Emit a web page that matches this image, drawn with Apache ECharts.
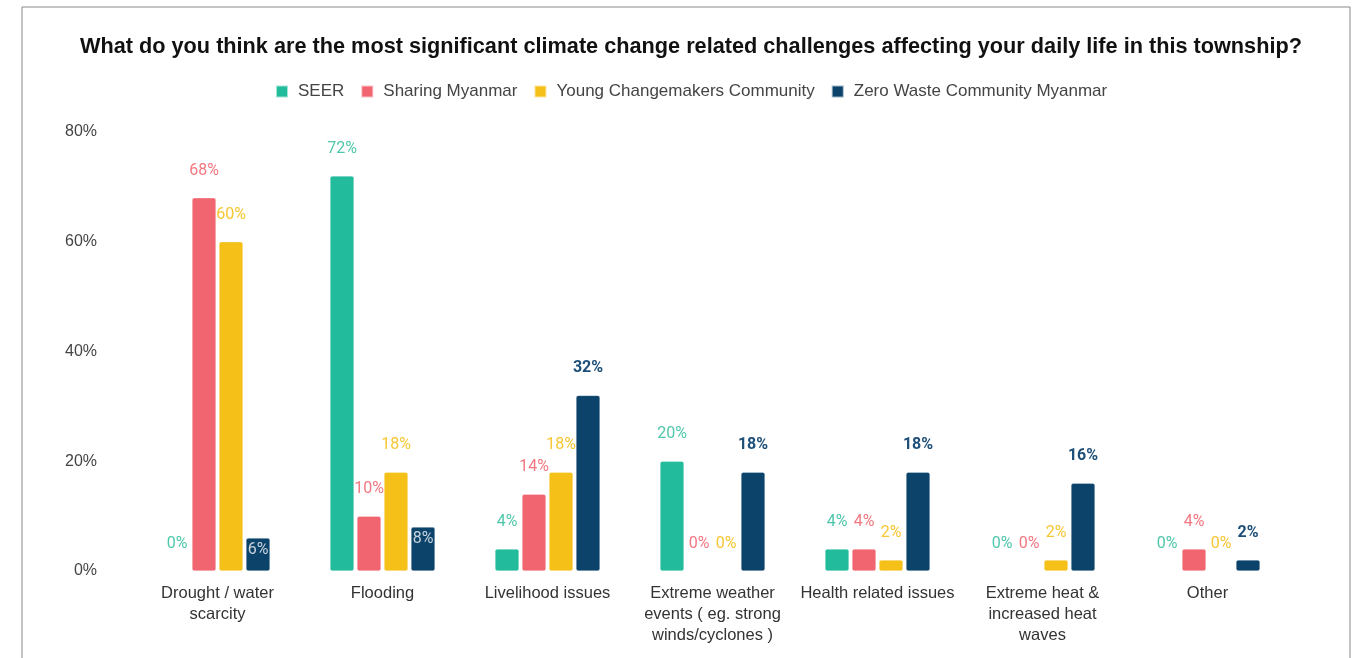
<!DOCTYPE html>
<html>
<head>
<meta charset="utf-8">
<script src="https://cdn.jsdelivr.net/npm/echarts@6/dist/echarts.min.js"></script>
<style>
  html, body { margin: 0; padding: 0; background: #fff; }
  #chart { width: 1358px; height: 658px; }
</style>
</head>
<body>
<div id="chart"></div>
<script>
"use strict"
// data
var categories = [
  'Drought / water\nscarcity',
  'Flooding',
  'Livelihood issues',
  'Extreme weather\nevents ( eg. strong\nwinds/cyclones )',
  'Health related issues',
  'Extreme heat &\nincreased heat\nwaves',
  'Other'
];
var seriesNames = ['SEER', 'Sharing Myanmar', 'Young Changemakers Community', 'Zero Waste Community Myanmar'];
var seer = [0, 72, 4, 20, 4, 0, 0];
var sharing = [68, 10, 14, 0, 4, 0, 4];
var young = [60, 18, 18, 0, 2, 2, 0];
var zeroWaste = [6, 8, 32, 18, 18, 16, 2];
var yTicks = [0, 20, 40, 60, 80];

var colors = ['#22bb9b', '#f06570', '#f5c018', '#0b436b'];
var labelColors = ['#4fc7ab', '#f27780', '#f7c633', '#1d4f78'];
// labels that sit inside the bar in the reference
var insideLabels = { 3: [0, 1] };

function makeSeries(idx, values) {
  var inside = insideLabels[idx] || [];
  var d = values.map(function (v, i) {
    if (inside.indexOf(i) >= 0) {
      return { value: v, label: { position: 'insideTop', distance: 4, color: '#c9d4de', fontWeight: 'normal' } };
    }
    return v;
  });
  return {
    name: seriesNames[idx],
    type: 'bar',
    barWidth: 24,
    barGap: '12.5%',
    data: d,
    itemStyle: {
      color: colors[idx],
      borderRadius: 2,
      borderColor: 'rgba(255,255,255,0.6)',
      borderWidth: 0.5
    },
    label: {
      show: true,
      position: 'top',
      distance: 19,
      formatter: '{c}%',
      fontFamily: 'Roboto',
      fontSize: 16,
      fontWeight: idx === 3 ? 'bold' : 'normal',
      color: labelColors[idx]
    }
  };
}

var option = {
  backgroundColor: '#fff',
  animation: false,
  graphic: [{
    type: 'rect',
    shape: { x: 22, y: 7, width: 1328, height: 700 },
    style: { fill: 'none', stroke: '#888', lineWidth: 1 },
    silent: true
  }],
  title: {
    text: 'What do you think are the most significant climate change related challenges affecting your daily life in this township?',
    left: 75,
    top: 31,
    textStyle: {
      fontFamily: 'Liberation Sans',
      fontSize: 21.7,
      fontWeight: 'bold',
      color: '#111'
    }
  },
  legend: {
    top: 78,
    left: 270,
    icon: 'rect',
    itemWidth: 12,
    itemHeight: 12,
    itemGap: 16,
    textStyle: {
      fontFamily: 'Liberation Sans',
      fontSize: 17,
      color: '#444',
      padding: [0, 0, 0, 5]
    },
    data: seriesNames
  },
  grid: {
    left: 135,
    right: 68,
    top: 132,
    bottom: 87
  },
  xAxis: {
    type: 'category',
    data: categories,
    axisLine: { show: false },
    axisTick: { show: false },
    axisLabel: {
      interval: 0,
      margin: 12,
      fontFamily: 'Liberation Sans',
      fontSize: 16.5,
      lineHeight: 21,
      color: '#333'
    }
  },
  yAxis: {
    type: 'value',
    min: yTicks[0],
    max: yTicks[yTicks.length - 1],
    interval: yTicks[1] - yTicks[0],
    splitLine: { show: false },
    axisLine: { show: false },
    axisTick: { show: false },
    axisLabel: {
      margin: 38,
      formatter: '{value}%',
      fontFamily: 'Liberation Sans',
      fontSize: 16,
      color: '#444'
    }
  },
  series: [
    makeSeries(0, seer),
    makeSeries(1, sharing),
    makeSeries(2, young),
    makeSeries(3, zeroWaste)
  ]
};

var chart = echarts.init(document.getElementById('chart'));
chart.setOption(option);
</script>
</body>
</html>
